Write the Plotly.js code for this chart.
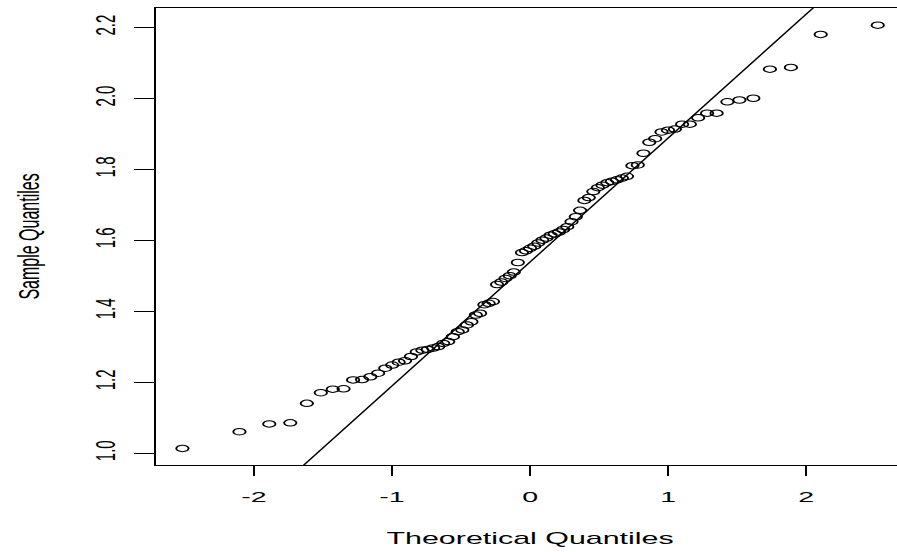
<!DOCTYPE html>
<html>
<head>
<meta charset="utf-8">
<script src="https://cdn.plot.ly/plotly-3.0.1.min.js"></script>
<style>
html, body { margin: 0; padding: 0; overflow: hidden; background: #fff; width: 897px; height: 552px; }
#chart { width: 490px; height: 552px; transform: scaleX(1.9); transform-origin: 0 0; }
</style>
</head>
<body>
<div id="chart"></div>
<script>
// Theoretical normal quantiles (n = 85)
const theoretical = [
  -2.518, -2.105, -1.889, -1.737, -1.617, -1.516, -1.429, -1.351, -1.282, -1.217,
  -1.157, -1.101, -1.049, -0.999, -0.952, -0.906, -0.863, -0.821, -0.780, -0.741,
  -0.702, -0.665, -0.629, -0.593, -0.559, -0.524, -0.491, -0.458, -0.425, -0.393,
  -0.362, -0.331, -0.300, -0.269, -0.239, -0.209, -0.178, -0.148, -0.118, -0.089,
  -0.059, -0.030, 0.000, 0.030, 0.059, 0.089, 0.118, 0.148, 0.178, 0.209,
  0.239, 0.269, 0.300, 0.331, 0.362, 0.393, 0.425, 0.458, 0.491, 0.524,
  0.559, 0.593, 0.629, 0.665, 0.702, 0.741, 0.780, 0.821, 0.863, 0.906,
  0.952, 0.999, 1.049, 1.101, 1.157, 1.217, 1.282, 1.351, 1.429, 1.516,
  1.617, 1.737, 1.889, 2.105, 2.518
];
// Sample quantiles (sorted data)
const sample = [
  1.013, 1.060, 1.082, 1.085, 1.140, 1.170, 1.180, 1.181, 1.206, 1.207,
  1.215, 1.225, 1.239, 1.248, 1.256, 1.260, 1.272, 1.285, 1.290, 1.292,
  1.296, 1.300, 1.309, 1.314, 1.328, 1.342, 1.347, 1.361, 1.370, 1.389,
  1.394, 1.418, 1.422, 1.427, 1.475, 1.482, 1.492, 1.500, 1.510, 1.537,
  1.565, 1.570, 1.577, 1.583, 1.592, 1.600, 1.606, 1.614, 1.618, 1.623,
  1.630, 1.638, 1.652, 1.666, 1.684, 1.712, 1.720, 1.737, 1.748, 1.755,
  1.762, 1.766, 1.770, 1.775, 1.780, 1.810, 1.812, 1.845, 1.876, 1.886,
  1.905, 1.910, 1.913, 1.927, 1.927, 1.945, 1.958, 1.958, 1.990, 1.995,
  2.000, 2.082, 2.087, 2.180, 2.206
];
// qqline (through the quartiles)
const qqIntercept = 1.5385;
const qqSlope = 0.3493;
const lineX = [-3, 3];
const lineY = lineX.map(v => qqIntercept + qqSlope * v);

const xTicks = [-2, -1, 0, 1, 2];
const xTickText = ['-2', '-1', '0', '1', '2'];
const yTicks = [1.0, 1.2, 1.4, 1.6, 1.8, 2.0, 2.2];
const yTickText = ['1.0', '1.2', '1.4', '1.6', '1.8', '2.0', '2.2'];

const fontFam = 'Liberation Sans, Arial, Helvetica, sans-serif';

const traces = [
  {
    x: theoretical, y: sample, type: 'scatter', mode: 'markers',
    marker: { symbol: 'circle-open', size: 6.5, color: '#000', line: { width: 1, color: '#000' } },
    hoverinfo: 'skip', showlegend: false
  },
  {
    x: lineX, y: lineY, type: 'scatter', mode: 'lines',
    line: { color: '#000', width: 1 }, hoverinfo: 'skip', showlegend: false
  }
];

const layout = {
  width: 490, height: 552,
  margin: { l: 81.6, r: 13.7, t: 8, b: 87 },
  paper_bgcolor: '#fff', plot_bgcolor: '#fff',
  showlegend: false,
  font: { family: fontFam, color: '#000', size: 15 },
  xaxis: {
    range: [-2.711, 2.711],
    tickmode: 'array', tickvals: xTicks, ticktext: xTickText,
    ticks: 'outside', ticklen: 10, tickwidth: 1, tickcolor: '#000',
    ticklabelstandoff: 8,
    showline: true, linecolor: '#000', linewidth: 1, mirror: true,
    showgrid: false, zeroline: false,
    tickfont: { family: fontFam, size: 15, color: '#000' },
    title: { text: 'Theoretical Quantiles', font: { family: fontFam, size: 16, color: '#000' }, standoff: 28 },
    automargin: false
  },
  yaxis: {
    range: [0.9662, 2.2544],
    tickmode: 'array', tickvals: yTicks, ticktext: yTickText,
    ticks: 'outside', ticklen: 10.5, tickwidth: 1, tickcolor: '#000',
    ticklabelstandoff: 4,
    tickangle: -90,
    showline: true, linecolor: '#000', linewidth: 1, mirror: true,
    showgrid: false, zeroline: false,
    tickfont: { family: fontFam, size: 15, color: '#000' },
    title: { text: 'Sample Quantiles', font: { family: fontFam, size: 16, color: '#000' }, standoff: 21 },
    automargin: false
  }
};

Plotly.newPlot('chart', traces, layout, { staticPlot: true, displayModeBar: false });
</script>
</body>
</html>
